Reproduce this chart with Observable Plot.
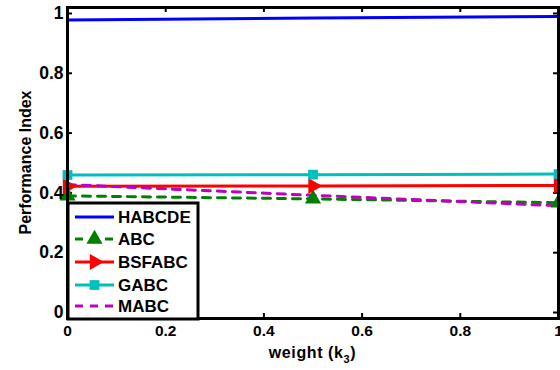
<!DOCTYPE html>
<html><head><meta charset="utf-8">
<script src="https://cdn.jsdelivr.net/npm/d3@7"></script>
<script src="https://cdn.jsdelivr.net/npm/@observablehq/plot@0.6"></script>
<style>body{margin:0;background:#fff;} svg{display:block;}</style>
</head><body><div id="chart"></div>
<script>
const xs = [0, 0.5, 1];
const seriesNames = ["HABCDE", "ABC", "BSFABC", "GABC", "MABC"];
const habcde = [0.978, 0.985, 0.99];
const abc = [0.39, 0.38, 0.367];
const bsfabc = [0.422, 0.423, 0.425];
const gabc = [0.46, 0.461, 0.463];
const mabc = [0.428, 0.392, 0.357];
const xTicks = [0, 0.2, 0.4, 0.6, 0.8, 1];
const yTicks = [0, 0.2, 0.4, 0.6, 0.8, 1];
const xLabel = "weight (k";
const xLabelSub = "3";
const xLabelEnd = ")";
const yLabel = "Performance Index";

const colors = {HABCDE:"#0000ff", ABC:"#008000", BSFABC:"#ff0000", GABC:"#00bfbf", MABC:"#bf00bf"};
const dashes = {HABCDE:null, ABC:"8,7", BSFABC:null, GABC:null, MABC:"8,7"};
const vals = {HABCDE:habcde, ABC:abc, BSFABC:bsfabc, GABC:gabc, MABC:mabc};
const rows = seriesNames.flatMap(s => xs.map((x,i)=>({s, x, y: vals[s][i]})));

const W = 560, H = 370, mL = 67, mR = 2, mT = 7, mB = 52;
const pw = W - mL - mR, ph = H - mT - mB;
const font = "Liberation Sans, Arial, sans-serif";

const marks = [];
marks.push(Plot.ruleX(xTicks, {x: d=>d, insetTop: ph-5, stroke:"black", strokeWidth:2}));
marks.push(Plot.ruleX(xTicks, {x: d=>d, insetBottom: ph-5, stroke:"black", strokeWidth:2}));
marks.push(Plot.ruleY(yTicks, {y: d=>d, insetRight: pw-5, stroke:"black", strokeWidth:2}));
marks.push(Plot.ruleY(yTicks, {y: d=>d, insetLeft: pw-5, stroke:"black", strokeWidth:2}));
for (const s of seriesNames) {
  const d = rows.filter(r=>r.s===s);
  marks.push(Plot.line(d, {x:"x", y:"y", stroke: colors[s], strokeWidth:3, strokeDasharray: dashes[s]}));
}
marks.push(Plot.dot(rows.filter(r=>r.s==="HABCDE"), {x:"x", y:"y", symbol:"plus", r:3.5, fill: colors.HABCDE}));
marks.push(Plot.dot(rows.filter(r=>r.s==="ABC"), {x:"x", y:"y", symbol:"triangle", r:6, fill: colors.ABC}));
marks.push(Plot.dot(rows.filter(r=>r.s==="BSFABC"), {x:"x", y:"y", symbol:"triangle", r:6, rotate:90, fill: colors.BSFABC}));
marks.push(Plot.dot(rows.filter(r=>r.s==="GABC"), {x:"x", y:"y", symbol:"square", r:5.5, fill: colors.GABC}));
marks.push(Plot.frame({stroke:"black", strokeWidth:3}));
// tick labels drawn as text marks positioned by the scales
marks.push(Plot.text(xTicks, {x: d=>d, text: d=>String(d), frameAnchor:"bottom", dy: 17, fontSize: 15.5, fontWeight:"bold", fill:"black", textAnchor:"middle"}));
marks.push(Plot.text(yTicks, {y: d=>d, text: d=>String(d), frameAnchor:"left", dx: -4, fontSize: 17.5, fontWeight:"bold", fill:"black", textAnchor:"end"}));

const chart = Plot.plot({
  width: W, height: H,
  marginLeft: mL, marginRight: mR, marginTop: mT, marginBottom: mB,
  x: {domain:[0,1], axis:null},
  y: {domain:[-0.02,1.02], axis:null},
  style: {fontFamily: font, color:"black", background:"white", overflow:"visible"},
  marks
});
document.getElementById("chart").appendChild(chart);

const svg = d3.select(chart);
const xt = svg.append("text").attr("x", mL + pw/2).attr("y", 358).attr("text-anchor","middle")
  .attr("font-family", font).attr("font-size", 16).attr("font-weight","bold").attr("fill","black")
  .attr("letter-spacing", 0.6);
xt.append("tspan").text(xLabel);
xt.append("tspan").attr("font-size", 11).attr("dy", 5).text(xLabelSub);
xt.append("tspan").attr("dy", -5).text(xLabelEnd);
svg.append("text").attr("transform", `translate(31,${mT+ph/2}) rotate(-90)`).attr("text-anchor","middle")
  .attr("font-family", font).attr("font-size", 16).attr("font-weight","bold").attr("fill","black").text(yLabel);

const lg = svg.append("g");
lg.append("rect").attr("x", 68).attr("y", 203).attr("width", 130).attr("height", 116)
  .attr("fill","white").attr("stroke","black").attr("stroke-width",3);
const ly = [217, 239, 262, 285, 306];
seriesNames.forEach((s,i)=>{
  const y = ly[i];
  lg.append("line").attr("x1",75).attr("x2",114).attr("y1",y).attr("y2",y)
    .attr("stroke",colors[s]).attr("stroke-width",3).attr("stroke-dasharray", dashes[s]);
  const cx = 94.5;
  if (s==="HABCDE") lg.append("path").attr("d", d3.symbol(d3.symbolPlus, 60)()).attr("transform",`translate(${cx},${y})`).attr("fill",colors[s]);
  if (s==="ABC") lg.append("path").attr("d", d3.symbol(d3.symbolTriangle, 113)()).attr("transform",`translate(${cx},${y})`).attr("fill",colors[s]);
  if (s==="BSFABC") lg.append("path").attr("d", d3.symbol(d3.symbolTriangle, 113)()).attr("transform",`translate(${cx},${y}) rotate(90)`).attr("fill",colors[s]);
  if (s==="GABC") lg.append("path").attr("d", d3.symbol(d3.symbolSquare, 95)()).attr("transform",`translate(${cx},${y})`).attr("fill",colors[s]);
  lg.append("text").attr("x",118).attr("y",y).attr("dy","0.36em").attr("text-anchor","start").attr("font-family",font)
    .attr("font-size",17).attr("font-weight","bold").attr("fill","black").text(s);
});
</script></body></html>
